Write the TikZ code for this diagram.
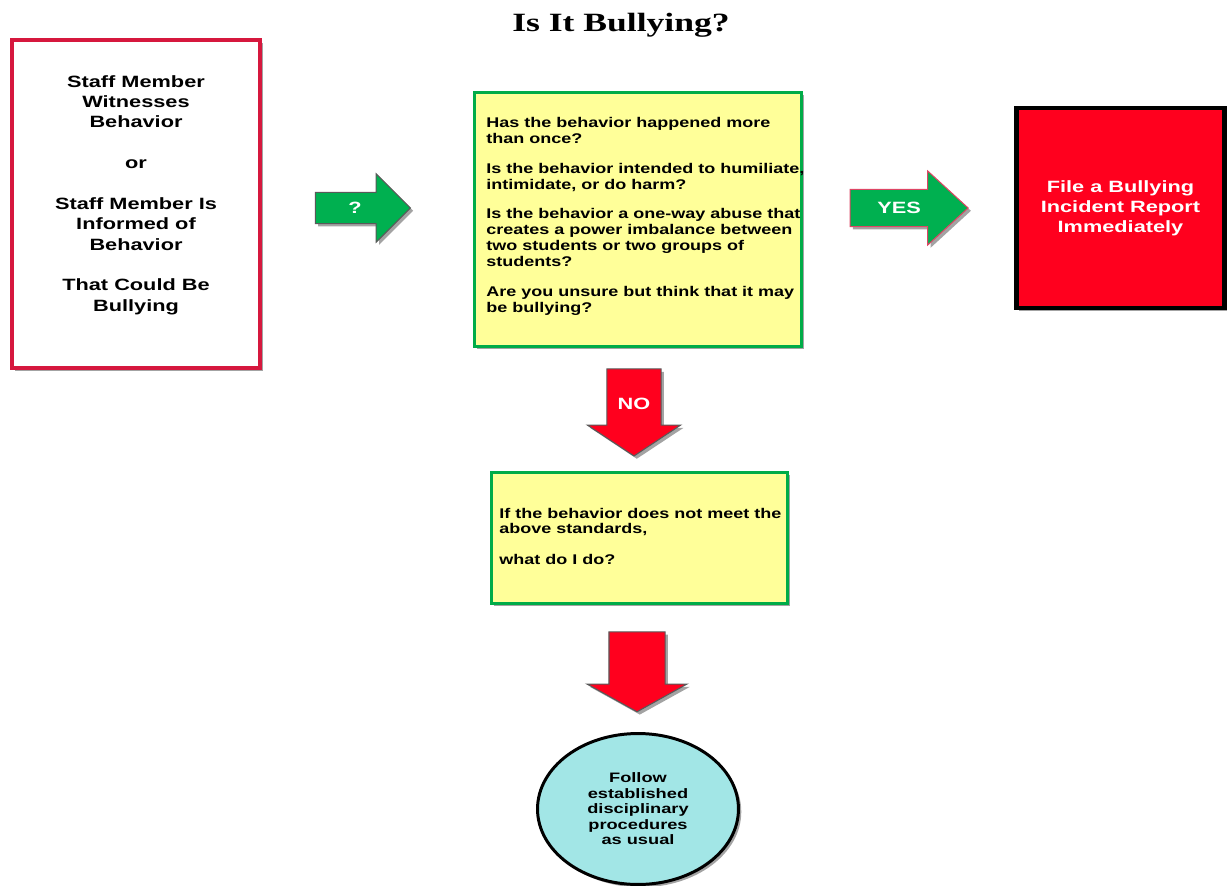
\documentclass[tikz,border=0pt]{standalone}
\usepackage{fontspec}
\setmainfont{Liberation Serif}
\setsansfont{Liberation Sans}
\newfontfamily\chartfont{Liberation Sans}[FakeStretch=1.33]
\newfontfamily\notefont{Liberation Sans}[FakeStretch=1.28]
\newfontfamily\headfont{Liberation Serif}[FakeStretch=1.35]
\usepackage{tikz}
\usetikzlibrary{positioning,shapes.geometric,shapes.arrows,shadows}
\definecolor{boxred}{RGB}{214,24,62}
\definecolor{arrowgreen}{RGB}{0,176,80}
\definecolor{qgreen}{RGB}{0,172,72}
\definecolor{paleyellow}{RGB}{255,255,153}
\definecolor{alarmred}{RGB}{255,0,30}
\definecolor{palecyan}{RGB}{162,230,230}
\tikzset{
  shade/.style={drop shadow={shadow xshift=1.6pt,shadow yshift=-1.6pt,fill=black!60,opacity=0.6}},
  framebox/.style={rectangle,inner sep=0pt,shade},
  bigtext/.style={font=\chartfont\bfseries\fontsize{9.3}{11.6}\selectfont,inner sep=0pt},
  smalltext/.style={font=\notefont\bfseries\fontsize{8}{9}\selectfont,inner sep=0pt,align=left,anchor=north west},
  blockarrow/.style={single arrow,inner sep=0pt,draw=black!65,line width=0.6pt,shade,
    font=\chartfont\bfseries\fontsize{9.3}{11.4}\selectfont,text=white},
}
\begin{document}
\begin{tikzpicture}[x=0.02cm,y=-0.02cm]
\useasboundingbox (0,0) rectangle (1228,886);
\node[font=\headfont\bfseries\fontsize{15}{18}\selectfont,anchor=base] (title) at (621,31) {Is It Bullying?};
% first box
\node[framebox,draw=boxred,fill=white,line width=2.3pt,minimum width=4.96cm,minimum height=6.56cm] (witness) at (136,204) {};
\node[bigtext,align=center] (witnesstext) at (136,195) {Staff Member\\Witnesses\\Behavior\\[11.6pt]or\\[11.6pt]Staff Member Is\\Informed of\\Behavior\\[11.6pt]That Could Be\\Bullying};
\node[blockarrow,fill=arrowgreen,text height=11.8pt,text depth=5.3pt,minimum height=1.9cm,minimum width=1.34cm,single arrow head extend=0.37cm] (ask) at (355,208) {?\hspace{0.38cm}};
% questions
\node[framebox,draw=qgreen,fill=paleyellow,line width=1.7pt,minimum width=6.54cm,minimum height=5.08cm] (questions) at (638,219.5) {};
\node[smalltext] (questionstext) at (486,117) {Has the behavior happened more\\than once?\\[8pt]Is the behavior intended to humiliate,\\intimidate, or do harm?\\[8pt]Is the behavior a one-way abuse that\\creates a power imbalance between\\two students or two groups of\\students?\\[8pt]Are you unsure but think that it may\\be bullying?};
\node[blockarrow,fill=arrowgreen,draw=boxred!80,text height=13.5pt,text depth=7pt,minimum height=2.36cm,minimum width=1.46cm,single arrow head extend=0.37cm,single arrow tip angle=85] (yes) at (899,208) {YES\hspace{0.46cm}};
\node[framebox,draw=black,fill=alarmred,line width=2.8pt,minimum width=4.16cm,minimum height=4.0cm,text=white,align=center,
  font=\chartfont\bfseries\fontsize{9.3}{11.4}\selectfont] (report) at (1120.5,208) {File a Bullying\\Incident Report\\Immediately};
% no branch
\node[blockarrow,fill=alarmred,shape border rotate=270,text width=30.2pt,align=center,minimum height=1.74cm,minimum width=1.84cm,single arrow head extend=0.39cm,single arrow tip angle=113] (no) at (634,403.5) {NO};
\node[framebox,draw=qgreen,fill=paleyellow,line width=1.7pt,minimum width=5.92cm,minimum height=2.62cm] (standards) at (639.5,538) {};
\node[smalltext,font=\notefont\bfseries\fontsize{8}{8.5}\selectfont] (standardstext) at (499,508) {If the behavior does not meet the\\above standards,\\[9pt]what do I do?};
\node[blockarrow,fill=alarmred,shape border rotate=270,text width=31.3pt,minimum height=1.6cm,minimum width=1.98cm,single arrow head extend=0.44cm,single arrow tip angle=122] (then) at (637,664) {};
\node[ellipse,draw=black,fill=palecyan,line width=1.7pt,minimum width=4.02cm,minimum height=3.02cm,inner sep=0pt,shade,align=center,
  font=\chartfont\bfseries\fontsize{7.8}{8.8}\selectfont] (usual) at (638,809) {Follow\\established\\disciplinary\\procedures\\as usual};
\end{tikzpicture}
\end{document}
